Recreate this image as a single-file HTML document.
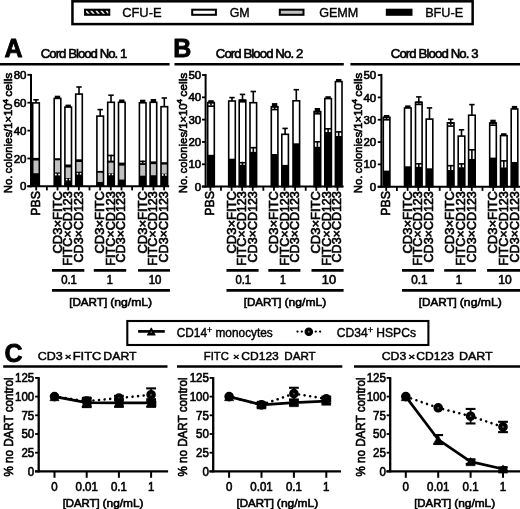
<!DOCTYPE html>
<html><head><meta charset="utf-8"><style>
html,body{margin:0;padding:0;background:#fff;}
svg{display:block;will-change:transform;}
text{font-family:"Liberation Sans", sans-serif;fill:#000;stroke:#000;stroke-width:0.62px;}
</style></head><body>
<svg width="520" height="509" viewBox="0 0 520 509">
<rect width="520" height="509" fill="#fff"/>
<rect x="72.45" y="1.30" width="400.20" height="22.80" fill="#fff" stroke="#000" stroke-width="2.5"/>
<rect x="85.00" y="9.70" width="24.30" height="5.10" fill="#000" stroke="#000" stroke-width="2"/>
<clipPath id="hc"><rect x="86" y="10.7" width="22.299999999999997" height="3.1000000000000014"/></clipPath>
<g clip-path="url(#hc)">
<line x1="85.60" y1="10.20" x2="89.00" y2="14.30" stroke="#f0f0f0" stroke-width="1.7" />
<line x1="90.70" y1="10.20" x2="94.10" y2="14.30" stroke="#f0f0f0" stroke-width="1.7" />
<line x1="95.80" y1="10.20" x2="99.20" y2="14.30" stroke="#f0f0f0" stroke-width="1.7" />
<line x1="100.90" y1="10.20" x2="104.30" y2="14.30" stroke="#f0f0f0" stroke-width="1.7" />
<line x1="106.00" y1="10.20" x2="109.40" y2="14.30" stroke="#f0f0f0" stroke-width="1.7" />
<line x1="111.10" y1="10.20" x2="114.50" y2="14.30" stroke="#f0f0f0" stroke-width="1.7" />
</g>
<rect x="192.20" y="9.70" width="23.70" height="5.10" fill="#fff" stroke="#000" stroke-width="2"/>
<rect x="279.80" y="9.70" width="23.70" height="5.10" fill="#c0c0c0" stroke="#000" stroke-width="2"/>
<rect x="385.80" y="8.70" width="26.70" height="7.10" fill="#000"/>
<text x="122.15" y="16.60" font-size="12.2" text-anchor="start" font-weight="normal" textLength="39.51" lengthAdjust="spacingAndGlyphs"  style="stroke-width:0.35px">CFU-E</text>
<text x="229.65" y="16.60" font-size="12.2" text-anchor="start" font-weight="normal" textLength="20.01" lengthAdjust="spacingAndGlyphs"  style="stroke-width:0.35px">GM</text>
<text x="319.15" y="16.60" font-size="12.2" text-anchor="start" font-weight="normal" textLength="39.21" lengthAdjust="spacingAndGlyphs"  style="stroke-width:0.35px">GEMM</text>
<text x="425.15" y="16.60" font-size="12.2" text-anchor="start" font-weight="normal" textLength="38.01" lengthAdjust="spacingAndGlyphs"  style="stroke-width:0.35px">BFU-E</text>
<text x="4.40" y="57.20" font-size="25" text-anchor="start" font-weight="bold"  style="stroke-width:0.8px">A</text>
<text x="173.20" y="57.00" font-size="25" text-anchor="start" font-weight="bold"  style="stroke-width:0.8px">B</text>
<text x="4.40" y="362.40" font-size="25" text-anchor="start" font-weight="bold"  style="stroke-width:0.8px">C</text>
<line x1="0.00" y1="64.20" x2="169.60" y2="64.20" stroke="#000" stroke-width="2.5" />
<line x1="174.50" y1="64.20" x2="343.80" y2="64.20" stroke="#000" stroke-width="2.5" />
<line x1="350.40" y1="64.20" x2="520.00" y2="64.20" stroke="#000" stroke-width="2.5" />
<text x="40.78" y="58.40" font-size="13.2" text-anchor="start" font-weight="normal" textLength="86.45" lengthAdjust="spacing"  style="stroke-width:0.6px">Cord Blood No. 1</text>
<text x="215.78" y="58.40" font-size="13.2" text-anchor="start" font-weight="normal" textLength="87.45" lengthAdjust="spacing"  style="stroke-width:0.6px">Cord Blood No. 2</text>
<text x="390.78" y="58.40" font-size="13.2" text-anchor="start" font-weight="normal" textLength="87.85" lengthAdjust="spacing"  style="stroke-width:0.6px">Cord Blood No. 3</text>
<line x1="31.00" y1="74.00" x2="31.00" y2="187.20" stroke="#000" stroke-width="2" />
<line x1="27.40" y1="74.80" x2="31.00" y2="74.80" stroke="#000" stroke-width="1.8" />
<text x="26.50" y="78.90" font-size="11.8" text-anchor="end" font-weight="normal" textLength="12.79" lengthAdjust="spacingAndGlyphs" >80</text>
<line x1="27.40" y1="102.70" x2="31.00" y2="102.70" stroke="#000" stroke-width="1.8" />
<text x="26.50" y="106.80" font-size="11.8" text-anchor="end" font-weight="normal" textLength="12.79" lengthAdjust="spacingAndGlyphs" >60</text>
<line x1="27.40" y1="130.60" x2="31.00" y2="130.60" stroke="#000" stroke-width="1.8" />
<text x="26.50" y="134.70" font-size="11.8" text-anchor="end" font-weight="normal" textLength="12.79" lengthAdjust="spacingAndGlyphs" >40</text>
<line x1="27.40" y1="158.50" x2="31.00" y2="158.50" stroke="#000" stroke-width="1.8" />
<text x="26.50" y="162.60" font-size="11.8" text-anchor="end" font-weight="normal" textLength="12.79" lengthAdjust="spacingAndGlyphs" >20</text>
<line x1="27.40" y1="186.30" x2="31.00" y2="186.30" stroke="#000" stroke-width="1.8" />
<text x="26.50" y="190.40" font-size="11.8" text-anchor="end" font-weight="normal" textLength="6.39" lengthAdjust="spacingAndGlyphs" >0</text>
<line x1="27.40" y1="186.20" x2="169.20" y2="186.20" stroke="#000" stroke-width="2" />
<line x1="36.20" y1="186.20" x2="36.20" y2="190.40" stroke="#000" stroke-width="1.8" />
<line x1="46.86" y1="186.20" x2="46.86" y2="190.40" stroke="#000" stroke-width="1.8" />
<line x1="57.52" y1="186.20" x2="57.52" y2="190.40" stroke="#000" stroke-width="1.8" />
<line x1="68.18" y1="186.20" x2="68.18" y2="190.40" stroke="#000" stroke-width="1.8" />
<line x1="78.84" y1="186.20" x2="78.84" y2="190.40" stroke="#000" stroke-width="1.8" />
<line x1="89.50" y1="186.20" x2="89.50" y2="190.40" stroke="#000" stroke-width="1.8" />
<line x1="100.16" y1="186.20" x2="100.16" y2="190.40" stroke="#000" stroke-width="1.8" />
<line x1="110.82" y1="186.20" x2="110.82" y2="190.40" stroke="#000" stroke-width="1.8" />
<line x1="121.48" y1="186.20" x2="121.48" y2="190.40" stroke="#000" stroke-width="1.8" />
<line x1="132.14" y1="186.20" x2="132.14" y2="190.40" stroke="#000" stroke-width="1.8" />
<line x1="142.80" y1="186.20" x2="142.80" y2="190.40" stroke="#000" stroke-width="1.8" />
<line x1="153.46" y1="186.20" x2="153.46" y2="190.40" stroke="#000" stroke-width="1.8" />
<line x1="164.12" y1="186.20" x2="164.12" y2="190.40" stroke="#000" stroke-width="1.8" />
<rect x="32.70" y="102.90" width="6.60" height="83.30" fill="#fff"/>
<rect x="32.70" y="160.60" width="6.60" height="12.60" fill="#c0c0c0"/>
<rect x="32.70" y="173.20" width="6.60" height="13.00" fill="#000"/>
<rect x="32.70" y="157.90" width="6.60" height="2.70" fill="#000"/>
<rect x="32.70" y="102.90" width="6.60" height="83.30" fill="none" stroke="#000" stroke-width="1.6"/>
<rect x="35.20" y="99.80" width="1.60" height="3.10" fill="#000"/>
<rect x="33.30" y="99.00" width="5.40" height="1.60" fill="#000"/>
<rect x="54.20" y="98.40" width="6.60" height="87.80" fill="#fff"/>
<rect x="54.20" y="160.40" width="6.60" height="12.00" fill="#c0c0c0"/>
<rect x="54.20" y="172.40" width="6.60" height="13.80" fill="#000"/>
<rect x="54.20" y="158.20" width="6.60" height="2.20" fill="#000"/>
<rect x="55.00" y="173.70" width="1.70" height="1.70" fill="#fff"/>
<rect x="58.30" y="173.70" width="1.70" height="1.70" fill="#fff"/>
<rect x="54.20" y="98.40" width="6.60" height="87.80" fill="none" stroke="#000" stroke-width="1.6"/>
<rect x="54.80" y="95.70" width="5.40" height="2.70" fill="#000"/>
<rect x="64.90" y="107.10" width="6.60" height="79.10" fill="#fff"/>
<rect x="64.90" y="167.50" width="6.60" height="10.50" fill="#c0c0c0"/>
<rect x="64.90" y="178.00" width="6.60" height="8.20" fill="#000"/>
<rect x="64.90" y="164.50" width="6.60" height="3.00" fill="#000"/>
<rect x="65.70" y="178.70" width="1.70" height="1.70" fill="#fff"/>
<rect x="69.00" y="178.70" width="1.70" height="1.70" fill="#fff"/>
<rect x="64.90" y="107.10" width="6.60" height="79.10" fill="none" stroke="#000" stroke-width="1.6"/>
<rect x="65.50" y="104.60" width="5.40" height="2.50" fill="#000"/>
<rect x="75.70" y="94.10" width="6.60" height="92.10" fill="#fff"/>
<rect x="75.70" y="162.00" width="6.60" height="9.60" fill="#c0c0c0"/>
<rect x="75.70" y="171.60" width="6.60" height="14.60" fill="#000"/>
<rect x="75.70" y="159.30" width="6.60" height="2.70" fill="#000"/>
<rect x="76.50" y="172.90" width="1.70" height="1.70" fill="#fff"/>
<rect x="79.80" y="172.90" width="1.70" height="1.70" fill="#fff"/>
<rect x="75.70" y="94.10" width="6.60" height="92.10" fill="none" stroke="#000" stroke-width="1.6"/>
<rect x="78.20" y="87.00" width="1.60" height="7.10" fill="#000"/>
<rect x="76.30" y="86.20" width="5.40" height="1.60" fill="#000"/>
<rect x="96.90" y="116.10" width="6.60" height="70.10" fill="#fff"/>
<rect x="96.90" y="172.80" width="6.60" height="9.10" fill="#c0c0c0"/>
<rect x="96.90" y="181.90" width="6.60" height="4.30" fill="#000"/>
<rect x="96.90" y="170.90" width="6.60" height="1.90" fill="#000"/>
<rect x="96.90" y="116.10" width="6.60" height="70.10" fill="none" stroke="#000" stroke-width="1.6"/>
<rect x="99.40" y="109.60" width="1.60" height="6.50" fill="#000"/>
<rect x="97.50" y="108.80" width="5.40" height="1.60" fill="#000"/>
<rect x="107.70" y="102.30" width="6.60" height="83.90" fill="#fff"/>
<rect x="107.70" y="162.50" width="6.60" height="10.70" fill="#c0c0c0"/>
<rect x="107.70" y="173.20" width="6.60" height="13.00" fill="#000"/>
<rect x="107.70" y="160.80" width="6.60" height="1.70" fill="#000"/>
<rect x="107.70" y="154.70" width="6.60" height="1.60" fill="#000"/>
<rect x="110.20" y="154.70" width="1.60" height="6.30" fill="#000"/>
<rect x="107.70" y="160.80" width="6.60" height="1.60" fill="#000"/>
<rect x="108.50" y="173.60" width="1.70" height="1.70" fill="#fff"/>
<rect x="111.80" y="173.60" width="1.70" height="1.70" fill="#fff"/>
<rect x="107.70" y="102.30" width="6.60" height="83.90" fill="none" stroke="#000" stroke-width="1.6"/>
<rect x="110.20" y="95.20" width="1.60" height="7.10" fill="#000"/>
<rect x="108.30" y="94.40" width="5.40" height="1.60" fill="#000"/>
<rect x="118.50" y="102.30" width="6.60" height="83.90" fill="#fff"/>
<rect x="118.50" y="165.70" width="6.60" height="13.80" fill="#c0c0c0"/>
<rect x="118.50" y="179.50" width="6.60" height="6.70" fill="#000"/>
<rect x="118.50" y="162.60" width="6.60" height="3.10" fill="#000"/>
<rect x="118.50" y="102.30" width="6.60" height="83.90" fill="none" stroke="#000" stroke-width="1.6"/>
<rect x="119.10" y="99.50" width="5.40" height="2.80" fill="#000"/>
<rect x="139.40" y="102.80" width="6.60" height="83.40" fill="#fff"/>
<rect x="139.40" y="164.60" width="6.60" height="11.00" fill="#c0c0c0"/>
<rect x="139.40" y="175.60" width="6.60" height="10.60" fill="#000"/>
<rect x="139.40" y="163.50" width="6.60" height="1.20" fill="#000"/>
<rect x="139.40" y="160.60" width="6.60" height="1.60" fill="#000"/>
<rect x="141.90" y="160.60" width="1.60" height="2.90" fill="#000"/>
<rect x="139.40" y="163.30" width="6.60" height="1.60" fill="#000"/>
<rect x="139.40" y="102.80" width="6.60" height="83.40" fill="none" stroke="#000" stroke-width="1.6"/>
<rect x="140.00" y="99.70" width="5.40" height="3.10" fill="#000"/>
<rect x="150.10" y="102.30" width="6.60" height="83.90" fill="#fff"/>
<rect x="150.10" y="164.20" width="6.60" height="11.00" fill="#c0c0c0"/>
<rect x="150.10" y="175.20" width="6.60" height="11.00" fill="#000"/>
<rect x="150.10" y="161.40" width="6.60" height="2.80" fill="#000"/>
<rect x="150.10" y="102.30" width="6.60" height="83.90" fill="none" stroke="#000" stroke-width="1.6"/>
<rect x="150.70" y="99.00" width="5.40" height="3.30" fill="#000"/>
<rect x="161.00" y="106.70" width="6.60" height="79.50" fill="#fff"/>
<rect x="161.00" y="164.60" width="6.60" height="9.00" fill="#c0c0c0"/>
<rect x="161.00" y="173.60" width="6.60" height="12.60" fill="#000"/>
<rect x="161.00" y="162.20" width="6.60" height="2.40" fill="#000"/>
<rect x="161.80" y="174.10" width="1.70" height="1.70" fill="#fff"/>
<rect x="165.10" y="174.10" width="1.70" height="1.70" fill="#fff"/>
<rect x="161.00" y="106.70" width="6.60" height="79.50" fill="none" stroke="#000" stroke-width="1.6"/>
<rect x="163.50" y="98.00" width="1.60" height="8.70" fill="#000"/>
<rect x="161.60" y="97.20" width="5.40" height="1.60" fill="#000"/>
<line x1="205.60" y1="74.00" x2="205.60" y2="187.60" stroke="#000" stroke-width="2" />
<line x1="202.00" y1="75.00" x2="205.60" y2="75.00" stroke="#000" stroke-width="1.8" />
<text x="201.20" y="79.10" font-size="11.8" text-anchor="end" font-weight="normal" textLength="12.79" lengthAdjust="spacingAndGlyphs" >50</text>
<line x1="202.00" y1="97.32" x2="205.60" y2="97.32" stroke="#000" stroke-width="1.8" />
<text x="201.20" y="101.42" font-size="11.8" text-anchor="end" font-weight="normal" textLength="12.79" lengthAdjust="spacingAndGlyphs" >40</text>
<line x1="202.00" y1="119.64" x2="205.60" y2="119.64" stroke="#000" stroke-width="1.8" />
<text x="201.20" y="123.74" font-size="11.8" text-anchor="end" font-weight="normal" textLength="12.79" lengthAdjust="spacingAndGlyphs" >30</text>
<line x1="202.00" y1="141.96" x2="205.60" y2="141.96" stroke="#000" stroke-width="1.8" />
<text x="201.20" y="146.06" font-size="11.8" text-anchor="end" font-weight="normal" textLength="12.79" lengthAdjust="spacingAndGlyphs" >20</text>
<line x1="202.00" y1="164.28" x2="205.60" y2="164.28" stroke="#000" stroke-width="1.8" />
<text x="201.20" y="168.38" font-size="11.8" text-anchor="end" font-weight="normal" textLength="12.79" lengthAdjust="spacingAndGlyphs" >10</text>
<line x1="202.00" y1="186.60" x2="205.60" y2="186.60" stroke="#000" stroke-width="1.8" />
<text x="201.20" y="190.70" font-size="11.8" text-anchor="end" font-weight="normal" textLength="6.39" lengthAdjust="spacingAndGlyphs" >0</text>
<line x1="201.80" y1="186.60" x2="343.60" y2="186.60" stroke="#000" stroke-width="2" />
<line x1="210.40" y1="186.60" x2="210.40" y2="190.80" stroke="#000" stroke-width="1.8" />
<line x1="220.99" y1="186.60" x2="220.99" y2="190.80" stroke="#000" stroke-width="1.8" />
<line x1="231.58" y1="186.60" x2="231.58" y2="190.80" stroke="#000" stroke-width="1.8" />
<line x1="242.17" y1="186.60" x2="242.17" y2="190.80" stroke="#000" stroke-width="1.8" />
<line x1="252.76" y1="186.60" x2="252.76" y2="190.80" stroke="#000" stroke-width="1.8" />
<line x1="263.35" y1="186.60" x2="263.35" y2="190.80" stroke="#000" stroke-width="1.8" />
<line x1="273.94" y1="186.60" x2="273.94" y2="190.80" stroke="#000" stroke-width="1.8" />
<line x1="284.53" y1="186.60" x2="284.53" y2="190.80" stroke="#000" stroke-width="1.8" />
<line x1="295.12" y1="186.60" x2="295.12" y2="190.80" stroke="#000" stroke-width="1.8" />
<line x1="305.71" y1="186.60" x2="305.71" y2="190.80" stroke="#000" stroke-width="1.8" />
<line x1="316.30" y1="186.60" x2="316.30" y2="190.80" stroke="#000" stroke-width="1.8" />
<line x1="326.89" y1="186.60" x2="326.89" y2="190.80" stroke="#000" stroke-width="1.8" />
<line x1="337.48" y1="186.60" x2="337.48" y2="190.80" stroke="#000" stroke-width="1.8" />
<rect x="207.70" y="102.60" width="6.60" height="84.00" fill="#fff"/>
<rect x="207.70" y="154.80" width="6.60" height="31.80" fill="#000"/>
<rect x="207.70" y="101.80" width="6.60" height="1.60" fill="#000"/>
<rect x="210.20" y="101.80" width="1.60" height="3.80" fill="#000"/>
<rect x="207.70" y="105.40" width="6.60" height="1.60" fill="#000"/>
<rect x="207.70" y="102.60" width="6.60" height="84.00" fill="none" stroke="#000" stroke-width="1.6"/>
<rect x="208.30" y="100.20" width="5.40" height="2.40" fill="#000"/>
<rect x="228.70" y="101.00" width="6.60" height="85.60" fill="#fff"/>
<rect x="228.70" y="158.70" width="6.60" height="27.90" fill="#000"/>
<rect x="228.70" y="101.00" width="6.60" height="85.60" fill="none" stroke="#000" stroke-width="1.6"/>
<rect x="231.20" y="97.60" width="1.60" height="3.40" fill="#000"/>
<rect x="229.30" y="96.80" width="5.40" height="1.60" fill="#000"/>
<rect x="239.20" y="100.20" width="6.60" height="86.40" fill="#fff"/>
<rect x="239.20" y="165.00" width="6.60" height="21.60" fill="#000"/>
<rect x="239.20" y="99.40" width="6.60" height="1.60" fill="#000"/>
<rect x="241.70" y="99.40" width="1.60" height="1.80" fill="#000"/>
<rect x="239.20" y="101.00" width="6.60" height="1.60" fill="#000"/>
<rect x="239.20" y="161.90" width="6.60" height="1.60" fill="#000"/>
<rect x="241.70" y="161.90" width="1.60" height="3.10" fill="#000"/>
<rect x="239.20" y="164.80" width="6.60" height="1.60" fill="#000"/>
<rect x="239.20" y="100.20" width="6.60" height="86.40" fill="none" stroke="#000" stroke-width="1.6"/>
<rect x="241.70" y="94.40" width="1.60" height="5.80" fill="#000"/>
<rect x="239.80" y="93.60" width="5.40" height="1.60" fill="#000"/>
<rect x="250.00" y="102.70" width="6.60" height="83.90" fill="#fff"/>
<rect x="250.00" y="152.10" width="6.60" height="34.50" fill="#000"/>
<rect x="250.00" y="146.90" width="6.60" height="1.60" fill="#000"/>
<rect x="252.50" y="146.90" width="1.60" height="5.20" fill="#000"/>
<rect x="250.00" y="151.90" width="6.60" height="1.60" fill="#000"/>
<rect x="250.00" y="102.70" width="6.60" height="83.90" fill="none" stroke="#000" stroke-width="1.6"/>
<rect x="252.50" y="91.50" width="1.60" height="11.20" fill="#000"/>
<rect x="250.60" y="90.70" width="5.40" height="1.60" fill="#000"/>
<rect x="271.30" y="106.70" width="6.60" height="79.90" fill="#fff"/>
<rect x="271.30" y="154.00" width="6.60" height="32.60" fill="#000"/>
<rect x="271.30" y="106.00" width="6.60" height="1.60" fill="#000"/>
<rect x="273.80" y="106.00" width="1.60" height="3.00" fill="#000"/>
<rect x="271.30" y="108.80" width="6.60" height="1.60" fill="#000"/>
<rect x="271.30" y="106.70" width="6.60" height="79.90" fill="none" stroke="#000" stroke-width="1.6"/>
<rect x="271.90" y="103.10" width="5.40" height="3.60" fill="#000"/>
<rect x="281.80" y="134.30" width="6.60" height="52.30" fill="#fff"/>
<rect x="281.80" y="164.90" width="6.60" height="21.70" fill="#000"/>
<rect x="281.80" y="134.30" width="6.60" height="52.30" fill="none" stroke="#000" stroke-width="1.6"/>
<rect x="284.30" y="128.40" width="1.60" height="5.90" fill="#000"/>
<rect x="282.40" y="127.60" width="5.40" height="1.60" fill="#000"/>
<rect x="293.00" y="100.80" width="6.60" height="85.80" fill="#fff"/>
<rect x="293.00" y="143.30" width="6.60" height="43.30" fill="#000"/>
<rect x="293.00" y="100.80" width="6.60" height="85.80" fill="none" stroke="#000" stroke-width="1.6"/>
<rect x="295.50" y="89.70" width="1.60" height="11.10" fill="#000"/>
<rect x="293.60" y="88.90" width="5.40" height="1.60" fill="#000"/>
<rect x="314.10" y="111.60" width="6.60" height="75.00" fill="#fff"/>
<rect x="314.10" y="147.00" width="6.60" height="39.60" fill="#000"/>
<rect x="314.10" y="111.00" width="6.60" height="1.60" fill="#000"/>
<rect x="316.60" y="111.00" width="1.60" height="2.20" fill="#000"/>
<rect x="314.10" y="113.00" width="6.60" height="1.60" fill="#000"/>
<rect x="314.10" y="141.00" width="6.60" height="1.60" fill="#000"/>
<rect x="316.60" y="141.00" width="1.60" height="6.00" fill="#000"/>
<rect x="314.10" y="146.80" width="6.60" height="1.60" fill="#000"/>
<rect x="314.10" y="111.60" width="6.60" height="75.00" fill="none" stroke="#000" stroke-width="1.6"/>
<rect x="314.70" y="108.00" width="5.40" height="3.60" fill="#000"/>
<rect x="324.80" y="98.60" width="6.60" height="88.00" fill="#fff"/>
<rect x="324.80" y="132.30" width="6.60" height="54.30" fill="#000"/>
<rect x="324.80" y="128.00" width="6.60" height="1.60" fill="#000"/>
<rect x="327.30" y="128.00" width="1.60" height="4.30" fill="#000"/>
<rect x="324.80" y="132.10" width="6.60" height="1.60" fill="#000"/>
<rect x="324.80" y="98.60" width="6.60" height="88.00" fill="none" stroke="#000" stroke-width="1.6"/>
<rect x="325.40" y="96.20" width="5.40" height="2.40" fill="#000"/>
<rect x="335.40" y="81.60" width="6.60" height="105.00" fill="#fff"/>
<rect x="335.40" y="136.20" width="6.60" height="50.40" fill="#000"/>
<rect x="335.40" y="131.10" width="6.60" height="1.60" fill="#000"/>
<rect x="337.90" y="131.10" width="1.60" height="5.10" fill="#000"/>
<rect x="335.40" y="136.00" width="6.60" height="1.60" fill="#000"/>
<rect x="335.40" y="81.60" width="6.60" height="105.00" fill="none" stroke="#000" stroke-width="1.6"/>
<rect x="336.00" y="79.00" width="5.40" height="2.60" fill="#000"/>
<line x1="381.40" y1="74.00" x2="381.40" y2="187.70" stroke="#000" stroke-width="2" />
<line x1="377.80" y1="75.10" x2="381.40" y2="75.10" stroke="#000" stroke-width="1.8" />
<text x="376.20" y="79.20" font-size="11.8" text-anchor="end" font-weight="normal" textLength="12.79" lengthAdjust="spacingAndGlyphs" >50</text>
<line x1="377.80" y1="97.42" x2="381.40" y2="97.42" stroke="#000" stroke-width="1.8" />
<text x="376.20" y="101.52" font-size="11.8" text-anchor="end" font-weight="normal" textLength="12.79" lengthAdjust="spacingAndGlyphs" >40</text>
<line x1="377.80" y1="119.74" x2="381.40" y2="119.74" stroke="#000" stroke-width="1.8" />
<text x="376.20" y="123.84" font-size="11.8" text-anchor="end" font-weight="normal" textLength="12.79" lengthAdjust="spacingAndGlyphs" >30</text>
<line x1="377.80" y1="142.06" x2="381.40" y2="142.06" stroke="#000" stroke-width="1.8" />
<text x="376.20" y="146.16" font-size="11.8" text-anchor="end" font-weight="normal" textLength="12.79" lengthAdjust="spacingAndGlyphs" >20</text>
<line x1="377.80" y1="164.38" x2="381.40" y2="164.38" stroke="#000" stroke-width="1.8" />
<text x="376.20" y="168.48" font-size="11.8" text-anchor="end" font-weight="normal" textLength="12.79" lengthAdjust="spacingAndGlyphs" >10</text>
<line x1="377.80" y1="186.70" x2="381.40" y2="186.70" stroke="#000" stroke-width="1.8" />
<text x="376.20" y="190.80" font-size="11.8" text-anchor="end" font-weight="normal" textLength="6.39" lengthAdjust="spacingAndGlyphs" >0</text>
<line x1="377.60" y1="186.70" x2="520.00" y2="186.70" stroke="#000" stroke-width="2" />
<line x1="386.20" y1="186.70" x2="386.20" y2="190.90" stroke="#000" stroke-width="1.8" />
<line x1="396.90" y1="186.70" x2="396.90" y2="190.90" stroke="#000" stroke-width="1.8" />
<line x1="407.60" y1="186.70" x2="407.60" y2="190.90" stroke="#000" stroke-width="1.8" />
<line x1="418.30" y1="186.70" x2="418.30" y2="190.90" stroke="#000" stroke-width="1.8" />
<line x1="429.00" y1="186.70" x2="429.00" y2="190.90" stroke="#000" stroke-width="1.8" />
<line x1="439.70" y1="186.70" x2="439.70" y2="190.90" stroke="#000" stroke-width="1.8" />
<line x1="450.40" y1="186.70" x2="450.40" y2="190.90" stroke="#000" stroke-width="1.8" />
<line x1="461.10" y1="186.70" x2="461.10" y2="190.90" stroke="#000" stroke-width="1.8" />
<line x1="471.80" y1="186.70" x2="471.80" y2="190.90" stroke="#000" stroke-width="1.8" />
<line x1="482.50" y1="186.70" x2="482.50" y2="190.90" stroke="#000" stroke-width="1.8" />
<line x1="493.20" y1="186.70" x2="493.20" y2="190.90" stroke="#000" stroke-width="1.8" />
<line x1="503.90" y1="186.70" x2="503.90" y2="190.90" stroke="#000" stroke-width="1.8" />
<line x1="514.60" y1="186.70" x2="514.60" y2="190.90" stroke="#000" stroke-width="1.8" />
<rect x="383.30" y="117.40" width="6.60" height="69.30" fill="#fff"/>
<rect x="383.30" y="170.60" width="6.60" height="16.10" fill="#000"/>
<rect x="383.30" y="116.60" width="6.60" height="1.60" fill="#000"/>
<rect x="385.80" y="116.60" width="1.60" height="2.60" fill="#000"/>
<rect x="383.30" y="119.00" width="6.60" height="1.60" fill="#000"/>
<rect x="383.30" y="117.40" width="6.60" height="69.30" fill="none" stroke="#000" stroke-width="1.6"/>
<rect x="383.90" y="115.00" width="5.40" height="2.40" fill="#000"/>
<rect x="404.50" y="108.00" width="6.60" height="78.70" fill="#fff"/>
<rect x="404.50" y="166.30" width="6.60" height="20.40" fill="#000"/>
<rect x="404.50" y="108.00" width="6.60" height="78.70" fill="none" stroke="#000" stroke-width="1.6"/>
<rect x="405.10" y="105.40" width="5.40" height="2.60" fill="#000"/>
<rect x="415.50" y="102.30" width="6.60" height="84.40" fill="#fff"/>
<rect x="415.50" y="167.00" width="6.60" height="19.70" fill="#000"/>
<rect x="415.50" y="101.50" width="6.60" height="1.60" fill="#000"/>
<rect x="418.00" y="101.50" width="1.60" height="2.30" fill="#000"/>
<rect x="415.50" y="103.60" width="6.60" height="1.60" fill="#000"/>
<rect x="415.50" y="163.00" width="6.60" height="1.60" fill="#000"/>
<rect x="418.00" y="163.00" width="1.60" height="4.00" fill="#000"/>
<rect x="415.50" y="166.80" width="6.60" height="1.60" fill="#000"/>
<rect x="415.50" y="102.30" width="6.60" height="84.40" fill="none" stroke="#000" stroke-width="1.6"/>
<rect x="418.00" y="96.90" width="1.60" height="5.40" fill="#000"/>
<rect x="416.10" y="96.10" width="5.40" height="1.60" fill="#000"/>
<rect x="426.20" y="119.10" width="6.60" height="67.60" fill="#fff"/>
<rect x="426.20" y="168.30" width="6.60" height="18.40" fill="#000"/>
<rect x="426.20" y="119.10" width="6.60" height="67.60" fill="none" stroke="#000" stroke-width="1.6"/>
<rect x="428.70" y="107.90" width="1.60" height="11.20" fill="#000"/>
<rect x="426.80" y="107.10" width="5.40" height="1.60" fill="#000"/>
<rect x="447.40" y="122.90" width="6.60" height="63.80" fill="#fff"/>
<rect x="447.40" y="170.20" width="6.60" height="16.50" fill="#000"/>
<rect x="447.40" y="122.10" width="6.60" height="1.60" fill="#000"/>
<rect x="449.90" y="122.10" width="1.60" height="3.40" fill="#000"/>
<rect x="447.40" y="125.30" width="6.60" height="1.60" fill="#000"/>
<rect x="447.40" y="164.90" width="6.60" height="1.60" fill="#000"/>
<rect x="449.90" y="164.90" width="1.60" height="5.30" fill="#000"/>
<rect x="447.40" y="170.00" width="6.60" height="1.60" fill="#000"/>
<rect x="447.40" y="122.90" width="6.60" height="63.80" fill="none" stroke="#000" stroke-width="1.6"/>
<rect x="449.90" y="119.30" width="1.60" height="3.60" fill="#000"/>
<rect x="448.00" y="118.50" width="5.40" height="1.60" fill="#000"/>
<rect x="458.20" y="136.10" width="6.60" height="50.60" fill="#fff"/>
<rect x="458.20" y="167.60" width="6.60" height="19.10" fill="#000"/>
<rect x="458.20" y="163.10" width="6.60" height="1.60" fill="#000"/>
<rect x="460.70" y="163.10" width="1.60" height="4.50" fill="#000"/>
<rect x="458.20" y="167.40" width="6.60" height="1.60" fill="#000"/>
<rect x="458.20" y="136.10" width="6.60" height="50.60" fill="none" stroke="#000" stroke-width="1.6"/>
<rect x="460.70" y="129.80" width="1.60" height="6.30" fill="#000"/>
<rect x="458.80" y="129.00" width="5.40" height="1.60" fill="#000"/>
<rect x="468.60" y="115.20" width="6.60" height="71.50" fill="#fff"/>
<rect x="468.60" y="159.20" width="6.60" height="27.50" fill="#000"/>
<rect x="468.60" y="149.00" width="6.60" height="1.60" fill="#000"/>
<rect x="471.10" y="149.00" width="1.60" height="10.20" fill="#000"/>
<rect x="468.60" y="159.00" width="6.60" height="1.60" fill="#000"/>
<rect x="468.60" y="115.20" width="6.60" height="71.50" fill="none" stroke="#000" stroke-width="1.6"/>
<rect x="471.10" y="104.60" width="1.60" height="10.60" fill="#000"/>
<rect x="469.20" y="103.80" width="5.40" height="1.60" fill="#000"/>
<rect x="489.70" y="123.00" width="6.60" height="63.70" fill="#fff"/>
<rect x="489.70" y="157.60" width="6.60" height="29.10" fill="#000"/>
<rect x="489.70" y="122.20" width="6.60" height="1.60" fill="#000"/>
<rect x="492.20" y="122.20" width="1.60" height="2.40" fill="#000"/>
<rect x="489.70" y="124.40" width="6.60" height="1.60" fill="#000"/>
<rect x="489.70" y="123.00" width="6.60" height="63.70" fill="none" stroke="#000" stroke-width="1.6"/>
<rect x="490.30" y="119.70" width="5.40" height="3.30" fill="#000"/>
<rect x="500.50" y="135.60" width="6.60" height="51.10" fill="#fff"/>
<rect x="500.50" y="167.80" width="6.60" height="18.90" fill="#000"/>
<rect x="500.50" y="160.10" width="6.60" height="1.60" fill="#000"/>
<rect x="503.00" y="160.10" width="1.60" height="7.70" fill="#000"/>
<rect x="500.50" y="167.60" width="6.60" height="1.60" fill="#000"/>
<rect x="500.50" y="135.60" width="6.60" height="51.10" fill="none" stroke="#000" stroke-width="1.6"/>
<rect x="501.10" y="133.20" width="5.40" height="2.40" fill="#000"/>
<rect x="511.20" y="109.00" width="6.60" height="77.70" fill="#fff"/>
<rect x="511.20" y="162.00" width="6.60" height="24.70" fill="#000"/>
<rect x="511.20" y="109.00" width="6.60" height="77.70" fill="none" stroke="#000" stroke-width="1.6"/>
<rect x="511.80" y="105.90" width="5.40" height="3.10" fill="#000"/>
<text transform="translate(11.90,193.30) rotate(-90)" font-size="11.4" text-anchor="start" font-weight="normal" textLength="17.70" lengthAdjust="spacingAndGlyphs" >No.</text>
<text transform="translate(11.90,173.40) rotate(-90)" font-size="11.4" text-anchor="start" font-weight="normal" textLength="70.00" lengthAdjust="spacingAndGlyphs" >colonies/1×10</text>
<text transform="translate(7.50,103.73) rotate(-90)" font-size="7.6" text-anchor="start" font-weight="normal" textLength="4.76" lengthAdjust="spacingAndGlyphs" >4</text>
<text transform="translate(11.90,96.70) rotate(-90)" font-size="11.4" text-anchor="start" font-weight="normal" textLength="24.00" lengthAdjust="spacingAndGlyphs" >cells</text>
<text transform="translate(186.50,193.30) rotate(-90)" font-size="11.4" text-anchor="start" font-weight="normal" textLength="17.70" lengthAdjust="spacingAndGlyphs" >No.</text>
<text transform="translate(186.50,173.40) rotate(-90)" font-size="11.4" text-anchor="start" font-weight="normal" textLength="70.00" lengthAdjust="spacingAndGlyphs" >colonies/1×10</text>
<text transform="translate(182.10,103.73) rotate(-90)" font-size="7.6" text-anchor="start" font-weight="normal" textLength="4.76" lengthAdjust="spacingAndGlyphs" >4</text>
<text transform="translate(186.50,96.70) rotate(-90)" font-size="11.4" text-anchor="start" font-weight="normal" textLength="24.00" lengthAdjust="spacingAndGlyphs" >cells</text>
<text transform="translate(361.60,193.30) rotate(-90)" font-size="11.4" text-anchor="start" font-weight="normal" textLength="17.70" lengthAdjust="spacingAndGlyphs" >No.</text>
<text transform="translate(361.60,173.40) rotate(-90)" font-size="11.4" text-anchor="start" font-weight="normal" textLength="70.00" lengthAdjust="spacingAndGlyphs" >colonies/1×10</text>
<text transform="translate(357.20,103.73) rotate(-90)" font-size="7.6" text-anchor="start" font-weight="normal" textLength="4.76" lengthAdjust="spacingAndGlyphs" >4</text>
<text transform="translate(361.60,96.70) rotate(-90)" font-size="11.4" text-anchor="start" font-weight="normal" textLength="24.00" lengthAdjust="spacingAndGlyphs" >cells</text>
<text transform="translate(40.20,215.64) rotate(-90)" font-size="12.0" text-anchor="start" font-weight="normal" textLength="24.48" lengthAdjust="spacingAndGlyphs" >PBS</text>
<text transform="translate(61.52,253.54) rotate(-90)" font-size="12.0" text-anchor="start" font-weight="normal" textLength="62.38" lengthAdjust="spacingAndGlyphs" >CD3×FITC</text>
<text transform="translate(72.18,265.64) rotate(-90)" font-size="12.0" text-anchor="start" font-weight="normal" textLength="74.48" lengthAdjust="spacingAndGlyphs" >FITC×CD123</text>
<text transform="translate(82.84,262.44) rotate(-90)" font-size="12.0" text-anchor="start" font-weight="normal" textLength="71.28" lengthAdjust="spacingAndGlyphs" >CD3×CD123</text>
<text transform="translate(104.16,253.54) rotate(-90)" font-size="12.0" text-anchor="start" font-weight="normal" textLength="62.38" lengthAdjust="spacingAndGlyphs" >CD3×FITC</text>
<text transform="translate(114.82,265.64) rotate(-90)" font-size="12.0" text-anchor="start" font-weight="normal" textLength="74.48" lengthAdjust="spacingAndGlyphs" >FITC×CD123</text>
<text transform="translate(125.48,262.44) rotate(-90)" font-size="12.0" text-anchor="start" font-weight="normal" textLength="71.28" lengthAdjust="spacingAndGlyphs" >CD3×CD123</text>
<text transform="translate(146.80,253.54) rotate(-90)" font-size="12.0" text-anchor="start" font-weight="normal" textLength="62.38" lengthAdjust="spacingAndGlyphs" >CD3×FITC</text>
<text transform="translate(157.46,265.64) rotate(-90)" font-size="12.0" text-anchor="start" font-weight="normal" textLength="74.48" lengthAdjust="spacingAndGlyphs" >FITC×CD123</text>
<text transform="translate(168.12,262.44) rotate(-90)" font-size="12.0" text-anchor="start" font-weight="normal" textLength="71.28" lengthAdjust="spacingAndGlyphs" >CD3×CD123</text>
<line x1="52.00" y1="270.40" x2="84.30" y2="270.40" stroke="#000" stroke-width="2.6" />
<text x="61.14" y="284.40" font-size="12.3" text-anchor="start" font-weight="normal" textLength="15.72" lengthAdjust="spacingAndGlyphs" >0.1</text>
<line x1="93.80" y1="270.40" x2="126.20" y2="270.40" stroke="#000" stroke-width="2.6" />
<text x="106.74" y="284.40" font-size="12.3" text-anchor="start" font-weight="normal" textLength="6.12" lengthAdjust="spacingAndGlyphs" >1</text>
<line x1="138.00" y1="270.40" x2="170.00" y2="270.40" stroke="#000" stroke-width="2.6" />
<text x="148.64" y="284.40" font-size="12.3" text-anchor="start" font-weight="normal" textLength="12.72" lengthAdjust="spacingAndGlyphs" >10</text>
<line x1="52.00" y1="290.40" x2="170.00" y2="290.40" stroke="#000" stroke-width="2.6" />
<text x="69.17" y="306.40" font-size="11.8" text-anchor="start" font-weight="normal" textLength="37.99" lengthAdjust="spacingAndGlyphs" >[DART]</text>
<text x="110.15" y="306.40" font-size="11.8" text-anchor="start" font-weight="normal" textLength="41.98" lengthAdjust="spacingAndGlyphs" >(ng/mL)</text>
<text transform="translate(214.40,215.64) rotate(-90)" font-size="12.0" text-anchor="start" font-weight="normal" textLength="24.48" lengthAdjust="spacingAndGlyphs" >PBS</text>
<text transform="translate(235.58,253.54) rotate(-90)" font-size="12.0" text-anchor="start" font-weight="normal" textLength="62.38" lengthAdjust="spacingAndGlyphs" >CD3×FITC</text>
<text transform="translate(246.17,265.64) rotate(-90)" font-size="12.0" text-anchor="start" font-weight="normal" textLength="74.48" lengthAdjust="spacingAndGlyphs" >FITC×CD123</text>
<text transform="translate(256.76,262.44) rotate(-90)" font-size="12.0" text-anchor="start" font-weight="normal" textLength="71.28" lengthAdjust="spacingAndGlyphs" >CD3×CD123</text>
<text transform="translate(277.94,253.54) rotate(-90)" font-size="12.0" text-anchor="start" font-weight="normal" textLength="62.38" lengthAdjust="spacingAndGlyphs" >CD3×FITC</text>
<text transform="translate(288.53,265.64) rotate(-90)" font-size="12.0" text-anchor="start" font-weight="normal" textLength="74.48" lengthAdjust="spacingAndGlyphs" >FITC×CD123</text>
<text transform="translate(299.12,262.44) rotate(-90)" font-size="12.0" text-anchor="start" font-weight="normal" textLength="71.28" lengthAdjust="spacingAndGlyphs" >CD3×CD123</text>
<text transform="translate(320.30,253.54) rotate(-90)" font-size="12.0" text-anchor="start" font-weight="normal" textLength="62.38" lengthAdjust="spacingAndGlyphs" >CD3×FITC</text>
<text transform="translate(330.89,265.64) rotate(-90)" font-size="12.0" text-anchor="start" font-weight="normal" textLength="74.48" lengthAdjust="spacingAndGlyphs" >FITC×CD123</text>
<text transform="translate(341.48,262.44) rotate(-90)" font-size="12.0" text-anchor="start" font-weight="normal" textLength="71.28" lengthAdjust="spacingAndGlyphs" >CD3×CD123</text>
<line x1="226.50" y1="270.40" x2="258.60" y2="270.40" stroke="#000" stroke-width="2.6" />
<text x="235.44" y="284.40" font-size="12.3" text-anchor="start" font-weight="normal" textLength="15.62" lengthAdjust="spacingAndGlyphs" >0.1</text>
<line x1="268.30" y1="270.40" x2="300.40" y2="270.40" stroke="#000" stroke-width="2.6" />
<text x="280.04" y="284.40" font-size="12.3" text-anchor="start" font-weight="normal" textLength="5.82" lengthAdjust="spacingAndGlyphs" >1</text>
<line x1="311.50" y1="270.40" x2="343.60" y2="270.40" stroke="#000" stroke-width="2.6" />
<text x="321.84" y="284.40" font-size="12.3" text-anchor="start" font-weight="normal" textLength="14.22" lengthAdjust="spacingAndGlyphs" >10</text>
<line x1="226.50" y1="290.40" x2="343.60" y2="290.40" stroke="#000" stroke-width="2.6" />
<text x="243.77" y="306.40" font-size="11.8" text-anchor="start" font-weight="normal" textLength="37.81" lengthAdjust="spacingAndGlyphs" >[DART]</text>
<text x="284.55" y="306.40" font-size="11.8" text-anchor="start" font-weight="normal" textLength="41.78" lengthAdjust="spacingAndGlyphs" >(ng/mL)</text>
<text transform="translate(390.20,215.64) rotate(-90)" font-size="12.0" text-anchor="start" font-weight="normal" textLength="24.48" lengthAdjust="spacingAndGlyphs" >PBS</text>
<text transform="translate(411.60,253.54) rotate(-90)" font-size="12.0" text-anchor="start" font-weight="normal" textLength="62.38" lengthAdjust="spacingAndGlyphs" >CD3×FITC</text>
<text transform="translate(422.30,265.64) rotate(-90)" font-size="12.0" text-anchor="start" font-weight="normal" textLength="74.48" lengthAdjust="spacingAndGlyphs" >FITC×CD123</text>
<text transform="translate(433.00,262.44) rotate(-90)" font-size="12.0" text-anchor="start" font-weight="normal" textLength="71.28" lengthAdjust="spacingAndGlyphs" >CD3×CD123</text>
<text transform="translate(454.40,253.54) rotate(-90)" font-size="12.0" text-anchor="start" font-weight="normal" textLength="62.38" lengthAdjust="spacingAndGlyphs" >CD3×FITC</text>
<text transform="translate(465.10,265.64) rotate(-90)" font-size="12.0" text-anchor="start" font-weight="normal" textLength="74.48" lengthAdjust="spacingAndGlyphs" >FITC×CD123</text>
<text transform="translate(475.80,262.44) rotate(-90)" font-size="12.0" text-anchor="start" font-weight="normal" textLength="71.28" lengthAdjust="spacingAndGlyphs" >CD3×CD123</text>
<text transform="translate(497.20,253.54) rotate(-90)" font-size="12.0" text-anchor="start" font-weight="normal" textLength="62.38" lengthAdjust="spacingAndGlyphs" >CD3×FITC</text>
<text transform="translate(507.90,265.64) rotate(-90)" font-size="12.0" text-anchor="start" font-weight="normal" textLength="74.48" lengthAdjust="spacingAndGlyphs" >FITC×CD123</text>
<text transform="translate(518.60,262.44) rotate(-90)" font-size="12.0" text-anchor="start" font-weight="normal" textLength="71.28" lengthAdjust="spacingAndGlyphs" >CD3×CD123</text>
<line x1="402.00" y1="270.40" x2="434.10" y2="270.40" stroke="#000" stroke-width="2.6" />
<text x="411.24" y="284.40" font-size="12.3" text-anchor="start" font-weight="normal" textLength="16.22" lengthAdjust="spacingAndGlyphs" >0.1</text>
<line x1="444.20" y1="270.40" x2="476.00" y2="270.40" stroke="#000" stroke-width="2.6" />
<text x="455.84" y="284.40" font-size="12.3" text-anchor="start" font-weight="normal" textLength="6.42" lengthAdjust="spacingAndGlyphs" >1</text>
<line x1="487.10" y1="270.40" x2="520.00" y2="270.40" stroke="#000" stroke-width="2.6" />
<text x="498.24" y="284.40" font-size="12.3" text-anchor="start" font-weight="normal" textLength="13.42" lengthAdjust="spacingAndGlyphs" >10</text>
<line x1="402.00" y1="290.40" x2="520.00" y2="290.40" stroke="#000" stroke-width="2.6" />
<text x="418.77" y="306.40" font-size="11.8" text-anchor="start" font-weight="normal" textLength="38.04" lengthAdjust="spacingAndGlyphs" >[DART]</text>
<text x="459.80" y="306.40" font-size="11.8" text-anchor="start" font-weight="normal" textLength="42.03" lengthAdjust="spacingAndGlyphs" >(ng/mL)</text>
<rect x="127.30" y="321.00" width="301.10" height="24.00" fill="#fff" stroke="#000" stroke-width="2.1"/>
<line x1="138.10" y1="331.40" x2="164.80" y2="331.40" stroke="#000" stroke-width="2.7" />
<polygon points="147.6,335.0 151.3,328.2 155.0,335.0" fill="#000" stroke="#000" stroke-width="1.2" stroke-linejoin="round"/><circle cx="151.3" cy="332.2" r="0.8" fill="#777"/>
<text x="176.70" y="337.10" font-size="12" text-anchor="start" font-weight="normal" textLength="96.10" lengthAdjust="spacingAndGlyphs"  style="stroke-width:0.4px">CD14<tspan font-size="9" dy="-4.4">+</tspan><tspan dy="4.4"> monocytes</tspan></text>
<circle cx="297.5" cy="331.6" r="1.15" fill="#000"/>
<circle cx="301.8" cy="331.6" r="1.15" fill="#000"/>
<circle cx="315.8" cy="331.6" r="1.15" fill="#000"/>
<circle cx="320.1" cy="331.6" r="1.15" fill="#000"/>
<circle cx="308.8" cy="331.8" r="3.6" fill="#000" stroke="#000" stroke-width="1.4"/>
<circle cx="308.8" cy="331.8" r="0.9" fill="#888"/>
<text x="336.70" y="337.10" font-size="12" text-anchor="start" font-weight="normal" textLength="79.30" lengthAdjust="spacingAndGlyphs"  style="stroke-width:0.4px">CD34<tspan font-size="9" dy="-4.4">+</tspan><tspan dy="4.4"> HSPCs</tspan></text>
<line x1="3.20" y1="366.60" x2="167.50" y2="366.60" stroke="#000" stroke-width="2.5" />
<line x1="177.00" y1="366.60" x2="342.30" y2="366.60" stroke="#000" stroke-width="2.5" />
<line x1="354.00" y1="366.50" x2="520.00" y2="366.50" stroke="#000" stroke-width="2.5" />
<text x="37.67" y="360.30" font-size="11.8" text-anchor="start" font-weight="normal" textLength="25.05" lengthAdjust="spacingAndGlyphs"  style="stroke-width:0.45px">CD3</text>
<text x="64.87" y="360.30" font-size="9.0" text-anchor="start" font-weight="normal" textLength="6.76" lengthAdjust="spacingAndGlyphs"  style="stroke-width:0.5px">×</text>
<text x="72.77" y="360.30" font-size="11.8" text-anchor="start" font-weight="normal" textLength="28.55" lengthAdjust="spacingAndGlyphs"  style="stroke-width:0.45px">FITC</text>
<text x="103.37" y="360.30" font-size="11.8" text-anchor="start" font-weight="normal" textLength="33.15" lengthAdjust="spacingAndGlyphs"  style="stroke-width:0.45px">DART</text>
<text x="203.77" y="360.30" font-size="11.8" text-anchor="start" font-weight="normal" textLength="25.05" lengthAdjust="spacingAndGlyphs"  style="stroke-width:0.45px">FITC</text>
<text x="233.07" y="360.30" font-size="9.0" text-anchor="start" font-weight="normal" textLength="6.46" lengthAdjust="spacingAndGlyphs"  style="stroke-width:0.5px">×</text>
<text x="241.27" y="360.30" font-size="11.8" text-anchor="start" font-weight="normal" textLength="37.55" lengthAdjust="spacingAndGlyphs"  style="stroke-width:0.45px">CD123</text>
<text x="284.27" y="360.30" font-size="11.8" text-anchor="start" font-weight="normal" textLength="31.45" lengthAdjust="spacingAndGlyphs"  style="stroke-width:0.45px">DART</text>
<text x="381.77" y="360.30" font-size="11.8" text-anchor="start" font-weight="normal" textLength="24.55" lengthAdjust="spacingAndGlyphs"  style="stroke-width:0.45px">CD3</text>
<text x="408.27" y="360.30" font-size="9.0" text-anchor="start" font-weight="normal" textLength="6.96" lengthAdjust="spacingAndGlyphs"  style="stroke-width:0.5px">×</text>
<text x="416.37" y="360.30" font-size="11.8" text-anchor="start" font-weight="normal" textLength="37.65" lengthAdjust="spacingAndGlyphs"  style="stroke-width:0.45px">CD123</text>
<text x="458.97" y="360.30" font-size="11.8" text-anchor="start" font-weight="normal" textLength="33.75" lengthAdjust="spacingAndGlyphs"  style="stroke-width:0.45px">DART</text>
<line x1="38.70" y1="377.10" x2="38.70" y2="472.40" stroke="#000" stroke-width="2.3" />
<line x1="35.10" y1="377.90" x2="38.70" y2="377.90" stroke="#000" stroke-width="1.8" />
<text x="34.20" y="382.10" font-size="12.3" text-anchor="end" font-weight="normal" textLength="19.18" lengthAdjust="spacingAndGlyphs" >125</text>
<line x1="35.10" y1="396.60" x2="38.70" y2="396.60" stroke="#000" stroke-width="1.8" />
<text x="34.20" y="400.80" font-size="12.3" text-anchor="end" font-weight="normal" textLength="19.18" lengthAdjust="spacingAndGlyphs" >100</text>
<line x1="35.10" y1="415.30" x2="38.70" y2="415.30" stroke="#000" stroke-width="1.8" />
<text x="34.20" y="419.50" font-size="12.3" text-anchor="end" font-weight="normal" textLength="12.79" lengthAdjust="spacingAndGlyphs" >75</text>
<line x1="35.10" y1="434.00" x2="38.70" y2="434.00" stroke="#000" stroke-width="1.8" />
<text x="34.20" y="438.20" font-size="12.3" text-anchor="end" font-weight="normal" textLength="12.79" lengthAdjust="spacingAndGlyphs" >50</text>
<line x1="35.10" y1="452.70" x2="38.70" y2="452.70" stroke="#000" stroke-width="1.8" />
<text x="34.20" y="456.90" font-size="12.3" text-anchor="end" font-weight="normal" textLength="12.79" lengthAdjust="spacingAndGlyphs" >25</text>
<line x1="35.10" y1="471.40" x2="38.70" y2="471.40" stroke="#000" stroke-width="1.8" />
<text x="34.20" y="475.60" font-size="12.3" text-anchor="end" font-weight="normal" textLength="6.39" lengthAdjust="spacingAndGlyphs" >0</text>
<line x1="34.90" y1="471.40" x2="168.10" y2="471.40" stroke="#000" stroke-width="2.3" />
<line x1="54.50" y1="471.40" x2="54.50" y2="477.80" stroke="#000" stroke-width="2.0" />
<text x="54.50" y="490.50" font-size="12.3" text-anchor="middle" font-weight="normal" textLength="6.39" lengthAdjust="spacingAndGlyphs" >0</text>
<line x1="86.70" y1="471.40" x2="86.70" y2="477.80" stroke="#000" stroke-width="2.0" />
<text x="86.70" y="490.50" font-size="12.3" text-anchor="middle" font-weight="normal" textLength="22.38" lengthAdjust="spacingAndGlyphs" >0.01</text>
<line x1="118.90" y1="471.40" x2="118.90" y2="477.80" stroke="#000" stroke-width="2.0" />
<text x="118.90" y="490.50" font-size="12.3" text-anchor="middle" font-weight="normal" textLength="15.99" lengthAdjust="spacingAndGlyphs" >0.1</text>
<line x1="151.10" y1="471.40" x2="151.10" y2="477.80" stroke="#000" stroke-width="2.0" />
<text x="151.10" y="490.50" font-size="12.3" text-anchor="middle" font-weight="normal" textLength="6.39" lengthAdjust="spacingAndGlyphs" >1</text>
<text x="62.67" y="506.50" font-size="11.8" text-anchor="start" font-weight="normal" textLength="37.05" lengthAdjust="spacingAndGlyphs" >[DART]</text>
<text x="102.59" y="506.50" font-size="11.8" text-anchor="start" font-weight="normal" textLength="40.94" lengthAdjust="spacingAndGlyphs" >(ng/mL)</text>
<polyline points="54.50,396.60 86.70,401.09 118.90,398.10 151.10,394.73" fill="none" stroke="#000" stroke-width="2.6" stroke-linecap="round" stroke-dasharray="0.01 5.6"/>
<polyline points="54.50,396.60 86.70,402.58 118.90,402.96 151.10,402.96" fill="none" stroke="#000" stroke-width="2.7" stroke-linejoin="round"/>
<circle cx="54.50" cy="396.60" r="4.0" fill="#000" stroke="#000" stroke-width="1.6"/>
<circle cx="54.50" cy="396.60" r="0.9" fill="#666"/>
<circle cx="86.70" cy="401.09" r="4.0" fill="#000" stroke="#000" stroke-width="1.6"/>
<circle cx="86.70" cy="401.09" r="0.9" fill="#666"/>
<line x1="118.90" y1="395.85" x2="118.90" y2="400.34" stroke="#000" stroke-width="1.8" />
<line x1="114.00" y1="395.85" x2="123.80" y2="395.85" stroke="#000" stroke-width="2.1" />
<line x1="114.00" y1="400.34" x2="123.80" y2="400.34" stroke="#000" stroke-width="2.1" />
<circle cx="118.90" cy="398.10" r="4.0" fill="#000" stroke="#000" stroke-width="1.6"/>
<circle cx="118.90" cy="398.10" r="0.9" fill="#666"/>
<line x1="151.10" y1="388.37" x2="151.10" y2="401.09" stroke="#000" stroke-width="1.8" />
<line x1="146.20" y1="388.37" x2="156.00" y2="388.37" stroke="#000" stroke-width="2.1" />
<line x1="146.20" y1="401.09" x2="156.00" y2="401.09" stroke="#000" stroke-width="2.1" />
<circle cx="151.10" cy="394.73" r="4.0" fill="#000" stroke="#000" stroke-width="1.6"/>
<circle cx="151.10" cy="394.73" r="0.9" fill="#666"/>
<polygon points="49.90,400.70 54.50,392.50 59.10,400.70" fill="#000" stroke="#000" stroke-width="0.6" stroke-linejoin="round"/>
<line x1="86.70" y1="398.10" x2="86.70" y2="407.07" stroke="#000" stroke-width="1.8" />
<line x1="81.80" y1="398.10" x2="91.60" y2="398.10" stroke="#000" stroke-width="2.1" />
<line x1="81.80" y1="407.07" x2="91.60" y2="407.07" stroke="#000" stroke-width="2.1" />
<polygon points="82.10,406.68 86.70,398.48 91.30,406.68" fill="#000" stroke="#000" stroke-width="0.6" stroke-linejoin="round"/>
<rect x="82.60" y="396.60" width="8.90" height="10.60" rx="0.8" fill="#000"/>
<line x1="118.90" y1="399.22" x2="118.90" y2="406.70" stroke="#000" stroke-width="1.8" />
<line x1="114.00" y1="399.22" x2="123.80" y2="399.22" stroke="#000" stroke-width="2.1" />
<line x1="114.00" y1="406.70" x2="123.80" y2="406.70" stroke="#000" stroke-width="2.1" />
<polygon points="114.30,407.06 118.90,398.86 123.50,407.06" fill="#000" stroke="#000" stroke-width="0.6" stroke-linejoin="round"/>
<rect x="115.30" y="399.90" width="8.30" height="7.60" rx="0.8" fill="#000"/>
<line x1="151.10" y1="399.22" x2="151.10" y2="406.70" stroke="#000" stroke-width="1.8" />
<line x1="146.20" y1="399.22" x2="156.00" y2="399.22" stroke="#000" stroke-width="2.1" />
<line x1="146.20" y1="406.70" x2="156.00" y2="406.70" stroke="#000" stroke-width="2.1" />
<polygon points="146.50,407.06 151.10,398.86 155.70,407.06" fill="#000" stroke="#000" stroke-width="0.6" stroke-linejoin="round"/>
<rect x="147.40" y="400.50" width="8.90" height="6.80" rx="0.8" fill="#000"/>
<text transform="translate(12.90,476.56) rotate(-90)" font-size="12.3" text-anchor="start" font-weight="normal" textLength="99.12" lengthAdjust="spacingAndGlyphs" >% no DART control</text>
<line x1="213.20" y1="377.10" x2="213.20" y2="472.40" stroke="#000" stroke-width="2.3" />
<line x1="209.60" y1="377.90" x2="213.20" y2="377.90" stroke="#000" stroke-width="1.8" />
<text x="208.90" y="382.10" font-size="12.3" text-anchor="end" font-weight="normal" textLength="19.18" lengthAdjust="spacingAndGlyphs" >125</text>
<line x1="209.60" y1="396.60" x2="213.20" y2="396.60" stroke="#000" stroke-width="1.8" />
<text x="208.90" y="400.80" font-size="12.3" text-anchor="end" font-weight="normal" textLength="19.18" lengthAdjust="spacingAndGlyphs" >100</text>
<line x1="209.60" y1="415.30" x2="213.20" y2="415.30" stroke="#000" stroke-width="1.8" />
<text x="208.90" y="419.50" font-size="12.3" text-anchor="end" font-weight="normal" textLength="12.79" lengthAdjust="spacingAndGlyphs" >75</text>
<line x1="209.60" y1="434.00" x2="213.20" y2="434.00" stroke="#000" stroke-width="1.8" />
<text x="208.90" y="438.20" font-size="12.3" text-anchor="end" font-weight="normal" textLength="12.79" lengthAdjust="spacingAndGlyphs" >50</text>
<line x1="209.60" y1="452.70" x2="213.20" y2="452.70" stroke="#000" stroke-width="1.8" />
<text x="208.90" y="456.90" font-size="12.3" text-anchor="end" font-weight="normal" textLength="12.79" lengthAdjust="spacingAndGlyphs" >25</text>
<line x1="209.60" y1="471.40" x2="213.20" y2="471.40" stroke="#000" stroke-width="1.8" />
<text x="208.90" y="475.60" font-size="12.3" text-anchor="end" font-weight="normal" textLength="6.39" lengthAdjust="spacingAndGlyphs" >0</text>
<line x1="209.40" y1="471.40" x2="341.00" y2="471.40" stroke="#000" stroke-width="2.3" />
<line x1="229.10" y1="471.40" x2="229.10" y2="477.80" stroke="#000" stroke-width="2.0" />
<text x="229.10" y="490.50" font-size="12.3" text-anchor="middle" font-weight="normal" textLength="6.39" lengthAdjust="spacingAndGlyphs" >0</text>
<line x1="261.50" y1="471.40" x2="261.50" y2="477.80" stroke="#000" stroke-width="2.0" />
<text x="261.50" y="490.50" font-size="12.3" text-anchor="middle" font-weight="normal" textLength="22.38" lengthAdjust="spacingAndGlyphs" >0.01</text>
<line x1="293.90" y1="471.40" x2="293.90" y2="477.80" stroke="#000" stroke-width="2.0" />
<text x="293.90" y="490.50" font-size="12.3" text-anchor="middle" font-weight="normal" textLength="15.99" lengthAdjust="spacingAndGlyphs" >0.1</text>
<line x1="326.30" y1="471.40" x2="326.30" y2="477.80" stroke="#000" stroke-width="2.0" />
<text x="326.30" y="490.50" font-size="12.3" text-anchor="middle" font-weight="normal" textLength="6.39" lengthAdjust="spacingAndGlyphs" >1</text>
<text x="236.47" y="506.50" font-size="11.8" text-anchor="start" font-weight="normal" textLength="37.50" lengthAdjust="spacingAndGlyphs" >[DART]</text>
<text x="276.89" y="506.50" font-size="11.8" text-anchor="start" font-weight="normal" textLength="41.43" lengthAdjust="spacingAndGlyphs" >(ng/mL)</text>
<polyline points="229.10,396.60 261.50,404.83 293.90,393.61 326.30,398.84" fill="none" stroke="#000" stroke-width="2.6" stroke-linecap="round" stroke-dasharray="0.01 5.6"/>
<polyline points="229.10,396.60 261.50,404.83 293.90,402.58 326.30,401.09" fill="none" stroke="#000" stroke-width="2.7" stroke-linejoin="round"/>
<circle cx="229.10" cy="396.60" r="4.0" fill="#000" stroke="#000" stroke-width="1.6"/>
<circle cx="229.10" cy="396.60" r="0.9" fill="#666"/>
<circle cx="261.50" cy="404.83" r="4.0" fill="#000" stroke="#000" stroke-width="1.6"/>
<circle cx="261.50" cy="404.83" r="0.9" fill="#666"/>
<line x1="293.90" y1="387.77" x2="293.90" y2="399.44" stroke="#000" stroke-width="1.8" />
<line x1="289.00" y1="387.77" x2="298.80" y2="387.77" stroke="#000" stroke-width="2.1" />
<line x1="289.00" y1="399.44" x2="298.80" y2="399.44" stroke="#000" stroke-width="2.1" />
<circle cx="293.90" cy="393.61" r="4.0" fill="#000" stroke="#000" stroke-width="1.6"/>
<circle cx="293.90" cy="393.61" r="0.9" fill="#666"/>
<line x1="326.30" y1="396.60" x2="326.30" y2="401.09" stroke="#000" stroke-width="1.8" />
<line x1="321.40" y1="396.60" x2="331.20" y2="396.60" stroke="#000" stroke-width="2.1" />
<line x1="321.40" y1="401.09" x2="331.20" y2="401.09" stroke="#000" stroke-width="2.1" />
<circle cx="326.30" cy="398.84" r="4.0" fill="#000" stroke="#000" stroke-width="1.6"/>
<circle cx="326.30" cy="398.84" r="0.9" fill="#666"/>
<polygon points="224.50,400.70 229.10,392.50 233.70,400.70" fill="#000" stroke="#000" stroke-width="0.6" stroke-linejoin="round"/>
<line x1="261.50" y1="402.58" x2="261.50" y2="407.07" stroke="#000" stroke-width="1.8" />
<line x1="256.60" y1="402.58" x2="266.40" y2="402.58" stroke="#000" stroke-width="2.1" />
<line x1="256.60" y1="407.07" x2="266.40" y2="407.07" stroke="#000" stroke-width="2.1" />
<polygon points="256.90,408.93 261.50,400.73 266.10,408.93" fill="#000" stroke="#000" stroke-width="0.6" stroke-linejoin="round"/>
<rect x="256.90" y="400.80" width="8.40" height="7.80" rx="0.8" fill="#000"/>
<line x1="293.90" y1="400.34" x2="293.90" y2="404.83" stroke="#000" stroke-width="1.8" />
<line x1="289.00" y1="400.34" x2="298.80" y2="400.34" stroke="#000" stroke-width="2.1" />
<line x1="289.00" y1="404.83" x2="298.80" y2="404.83" stroke="#000" stroke-width="2.1" />
<polygon points="289.30,406.68 293.90,398.48 298.50,406.68" fill="#000" stroke="#000" stroke-width="0.6" stroke-linejoin="round"/>
<rect x="289.70" y="398.90" width="8.40" height="7.20" rx="0.8" fill="#000"/>
<line x1="326.30" y1="398.84" x2="326.30" y2="403.33" stroke="#000" stroke-width="1.8" />
<line x1="321.40" y1="398.84" x2="331.20" y2="398.84" stroke="#000" stroke-width="2.1" />
<line x1="321.40" y1="403.33" x2="331.20" y2="403.33" stroke="#000" stroke-width="2.1" />
<polygon points="321.70,405.19 326.30,396.99 330.90,405.19" fill="#000" stroke="#000" stroke-width="0.6" stroke-linejoin="round"/>
<rect x="322.40" y="396.90" width="7.40" height="7.70" rx="0.8" fill="#000"/>
<text transform="translate(187.10,476.56) rotate(-90)" font-size="12.3" text-anchor="start" font-weight="normal" textLength="99.12" lengthAdjust="spacingAndGlyphs" >% no DART control</text>
<line x1="390.20" y1="377.10" x2="390.20" y2="472.40" stroke="#000" stroke-width="2.3" />
<line x1="386.60" y1="377.90" x2="390.20" y2="377.90" stroke="#000" stroke-width="1.8" />
<text x="385.90" y="382.10" font-size="12.3" text-anchor="end" font-weight="normal" textLength="19.18" lengthAdjust="spacingAndGlyphs" >125</text>
<line x1="386.60" y1="396.60" x2="390.20" y2="396.60" stroke="#000" stroke-width="1.8" />
<text x="385.90" y="400.80" font-size="12.3" text-anchor="end" font-weight="normal" textLength="19.18" lengthAdjust="spacingAndGlyphs" >100</text>
<line x1="386.60" y1="415.30" x2="390.20" y2="415.30" stroke="#000" stroke-width="1.8" />
<text x="385.90" y="419.50" font-size="12.3" text-anchor="end" font-weight="normal" textLength="12.79" lengthAdjust="spacingAndGlyphs" >75</text>
<line x1="386.60" y1="434.00" x2="390.20" y2="434.00" stroke="#000" stroke-width="1.8" />
<text x="385.90" y="438.20" font-size="12.3" text-anchor="end" font-weight="normal" textLength="12.79" lengthAdjust="spacingAndGlyphs" >50</text>
<line x1="386.60" y1="452.70" x2="390.20" y2="452.70" stroke="#000" stroke-width="1.8" />
<text x="385.90" y="456.90" font-size="12.3" text-anchor="end" font-weight="normal" textLength="12.79" lengthAdjust="spacingAndGlyphs" >25</text>
<line x1="386.60" y1="471.40" x2="390.20" y2="471.40" stroke="#000" stroke-width="1.8" />
<text x="385.90" y="475.60" font-size="12.3" text-anchor="end" font-weight="normal" textLength="6.39" lengthAdjust="spacingAndGlyphs" >0</text>
<line x1="386.40" y1="471.40" x2="520.00" y2="471.40" stroke="#000" stroke-width="2.3" />
<line x1="405.80" y1="471.40" x2="405.80" y2="477.80" stroke="#000" stroke-width="2.0" />
<text x="405.80" y="490.50" font-size="12.3" text-anchor="middle" font-weight="normal" textLength="6.39" lengthAdjust="spacingAndGlyphs" >0</text>
<line x1="438.20" y1="471.40" x2="438.20" y2="477.80" stroke="#000" stroke-width="2.0" />
<text x="438.20" y="490.50" font-size="12.3" text-anchor="middle" font-weight="normal" textLength="22.38" lengthAdjust="spacingAndGlyphs" >0.01</text>
<line x1="470.60" y1="471.40" x2="470.60" y2="477.80" stroke="#000" stroke-width="2.0" />
<text x="470.60" y="490.50" font-size="12.3" text-anchor="middle" font-weight="normal" textLength="15.99" lengthAdjust="spacingAndGlyphs" >0.1</text>
<line x1="503.00" y1="471.40" x2="503.00" y2="477.80" stroke="#000" stroke-width="2.0" />
<text x="503.00" y="490.50" font-size="12.3" text-anchor="middle" font-weight="normal" textLength="6.39" lengthAdjust="spacingAndGlyphs" >1</text>
<text x="414.17" y="506.50" font-size="11.8" text-anchor="start" font-weight="normal" textLength="37.14" lengthAdjust="spacingAndGlyphs" >[DART]</text>
<text x="454.19" y="506.50" font-size="11.8" text-anchor="start" font-weight="normal" textLength="41.03" lengthAdjust="spacingAndGlyphs" >(ng/mL)</text>
<polyline points="405.80,396.60 438.20,407.82 470.60,416.20 503.00,426.97" fill="none" stroke="#000" stroke-width="2.6" stroke-linecap="round" stroke-dasharray="0.01 5.6"/>
<polyline points="405.80,396.60 438.20,439.54 470.60,461.60 503.00,469.01" fill="none" stroke="#000" stroke-width="2.7" stroke-linejoin="round"/>
<circle cx="405.80" cy="396.60" r="4.0" fill="#000" stroke="#000" stroke-width="1.6"/>
<circle cx="405.80" cy="396.60" r="0.9" fill="#666"/>
<circle cx="438.20" cy="407.82" r="4.0" fill="#000" stroke="#000" stroke-width="1.6"/>
<circle cx="438.20" cy="407.82" r="0.9" fill="#666"/>
<line x1="470.60" y1="408.94" x2="470.60" y2="423.45" stroke="#000" stroke-width="1.8" />
<line x1="465.70" y1="408.94" x2="475.50" y2="408.94" stroke="#000" stroke-width="2.1" />
<line x1="465.70" y1="423.45" x2="475.50" y2="423.45" stroke="#000" stroke-width="2.1" />
<circle cx="470.60" cy="416.20" r="4.0" fill="#000" stroke="#000" stroke-width="1.6"/>
<circle cx="470.60" cy="416.20" r="0.9" fill="#666"/>
<line x1="503.00" y1="421.81" x2="503.00" y2="432.13" stroke="#000" stroke-width="1.8" />
<line x1="498.10" y1="421.81" x2="507.90" y2="421.81" stroke="#000" stroke-width="2.1" />
<line x1="498.10" y1="432.13" x2="507.90" y2="432.13" stroke="#000" stroke-width="2.1" />
<circle cx="503.00" cy="426.97" r="4.0" fill="#000" stroke="#000" stroke-width="1.6"/>
<circle cx="503.00" cy="426.97" r="0.9" fill="#666"/>
<polygon points="401.20,400.70 405.80,392.50 410.40,400.70" fill="#000" stroke="#000" stroke-width="0.6" stroke-linejoin="round"/>
<line x1="438.20" y1="435.05" x2="438.20" y2="444.02" stroke="#000" stroke-width="1.8" />
<line x1="433.30" y1="435.05" x2="443.10" y2="435.05" stroke="#000" stroke-width="2.1" />
<line x1="433.30" y1="444.02" x2="443.10" y2="444.02" stroke="#000" stroke-width="2.1" />
<polygon points="433.60,443.64 438.20,435.44 442.80,443.64" fill="#000" stroke="#000" stroke-width="0.6" stroke-linejoin="round"/>
<line x1="470.60" y1="459.36" x2="470.60" y2="463.85" stroke="#000" stroke-width="1.8" />
<line x1="465.70" y1="459.36" x2="475.50" y2="459.36" stroke="#000" stroke-width="2.1" />
<line x1="465.70" y1="463.85" x2="475.50" y2="463.85" stroke="#000" stroke-width="2.1" />
<polygon points="466.00,465.70 470.60,457.50 475.20,465.70" fill="#000" stroke="#000" stroke-width="0.6" stroke-linejoin="round"/>
<rect x="467.90" y="458.70" width="7.30" height="5.80" rx="0.8" fill="#000"/>
<line x1="503.00" y1="467.51" x2="503.00" y2="470.50" stroke="#000" stroke-width="1.8" />
<line x1="498.10" y1="467.51" x2="507.90" y2="467.51" stroke="#000" stroke-width="2.1" />
<line x1="498.10" y1="470.50" x2="507.90" y2="470.50" stroke="#000" stroke-width="2.1" />
<polygon points="498.40,473.11 503.00,464.91 507.60,473.11" fill="#000" stroke="#000" stroke-width="0.6" stroke-linejoin="round"/>
<rect x="500.40" y="466.00" width="6.60" height="5.90" rx="0.8" fill="#000"/>
<text transform="translate(365.10,476.56) rotate(-90)" font-size="12.3" text-anchor="start" font-weight="normal" textLength="99.12" lengthAdjust="spacingAndGlyphs" >% no DART control</text>
</svg>
</body></html>
